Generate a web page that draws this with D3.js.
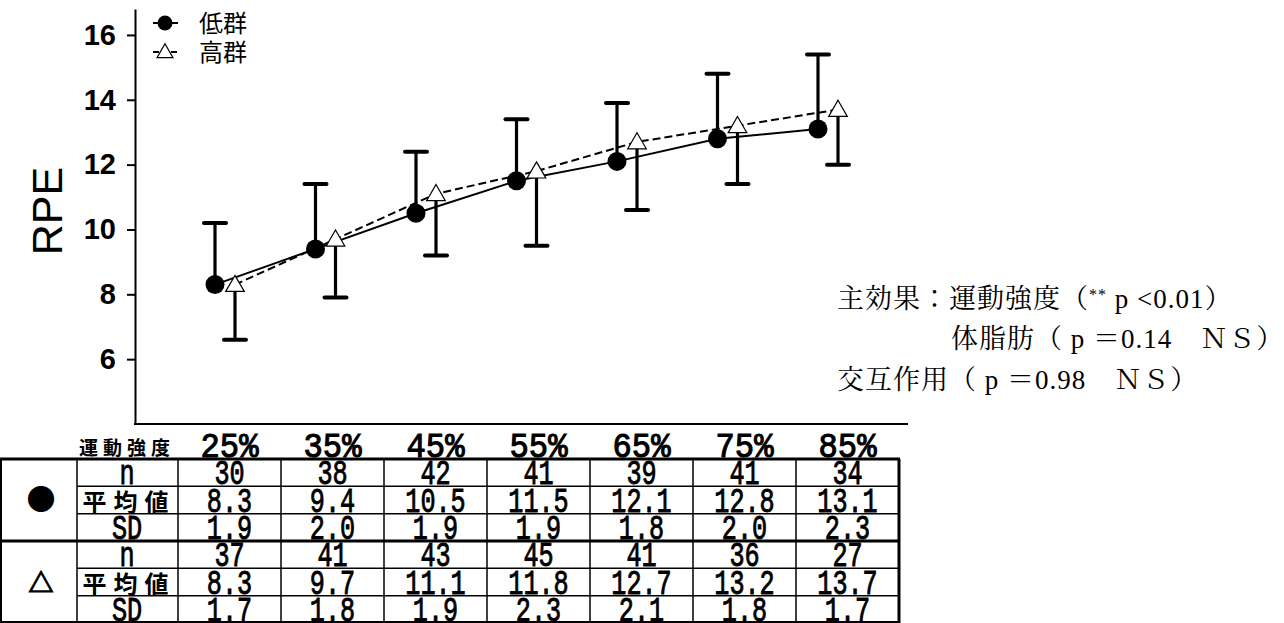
<!DOCTYPE html>
<html>
<head>
<meta charset="utf-8">
<script src="https://cdn.jsdelivr.net/npm/d3@7"></script>
<style>
  html, body { margin: 0; padding: 0; background: #fff; }
  svg { display: block; }
</style>
</head>
<body>
<svg id="chart" width="1284" height="623"></svg>
<script>
// Exercise intensity levels (% of max)
const categories = ["25%", "35%", "45%", "55%", "65%", "75%", "85%"];

// Low body-fat group (●)
const lowN    = [30, 38, 42, 41, 39, 41, 34];
const lowMean = [8.3, 9.4, 10.5, 11.5, 12.1, 12.8, 13.1];
const lowSD   = [1.9, 2.0, 1.9, 1.9, 1.8, 2.0, 2.3];

// High body-fat group (△)
const highN    = [37, 41, 43, 45, 41, 36, 27];
const highMean = [8.3, 9.7, 11.1, 11.8, 12.7, 13.2, 13.7];
const highSD   = [1.7, 1.8, 1.9, 2.3, 2.1, 1.8, 1.7];

const yTicks = [6, 8, 10, 12, 14, 16];
const legendLabels = ["低群", "高群"];
const rowLabels = ["n", "平均値", "SD"];
const statLines = [
  { text: "主効果：運動強度（", sup: "**", rest: " p <0.01）", indent: 0 },
  { text: "体脂肪（ p ＝0.14　ＮＳ）", indent: 1 },
  { text: "交互作用（ p ＝0.98　ＮＳ）", indent: 0 }
];

const svg = d3.select("#chart");
const ink = "#000";

// ---- scales ----
const y = d3.scaleLinear().domain([4, 16.8]).range([424, 9]);
const x = d3.scalePoint().domain(categories).range([225, 828]);
const groupOffset = 10;

// ---- axes ----
const yAxis = d3.axisLeft(y).tickValues(yTicks).tickSize(8).tickSizeOuter(0).tickPadding(11);
const gy = svg.append("g").attr("transform", "translate(135,0)").call(yAxis);
gy.select(".domain").attr("stroke", ink).attr("stroke-width", 2);
gy.selectAll(".tick line").attr("stroke", ink).attr("stroke-width", 2);
gy.selectAll(".tick text")
  .attr("fill", ink)
  .style("font-family", "'Liberation Sans', Arial, sans-serif")
  .style("font-weight", "bold")
  .style("font-size", "29px");

svg.append("line")
  .attr("x1", 134).attr("x2", 908)
  .attr("y1", y(4)).attr("y2", y(4))
  .attr("stroke", ink).attr("stroke-width", 2);

svg.append("text")
  .attr("transform", "translate(62,211) rotate(-90)")
  .attr("text-anchor", "middle")
  .style("font-family", "'Liberation Sans', Arial, sans-serif")
  .style("font-size", "43px")
  .text("RPE");

// ---- series ----
const low = categories.map((c, i) => ({ c, m: lowMean[i], sd: lowSD[i] }));
const high = categories.map((c, i) => ({ c, m: highMean[i], sd: highSD[i] }));
const xl = d => x(d.c) - groupOffset;
const xh = d => x(d.c) + groupOffset;
const capW = 11;

// error bars: low group upward, high group downward
const errLow = svg.append("g");
errLow.selectAll("line.v").data(low).join("line")
  .attr("x1", xl).attr("x2", xl)
  .attr("y1", d => y(d.m)).attr("y2", d => y(d.m + d.sd))
  .attr("stroke", ink).attr("stroke-width", 3.2);
errLow.selectAll("line.c").data(low).join("line")
  .attr("x1", d => xl(d) - capW).attr("x2", d => xl(d) + capW)
  .attr("y1", d => y(d.m + d.sd)).attr("y2", d => y(d.m + d.sd))
  .attr("stroke", ink).attr("stroke-width", 4).attr("stroke-linecap", "round");

const errHigh = svg.append("g");
errHigh.selectAll("line.v").data(high).join("line")
  .attr("x1", xh).attr("x2", xh)
  .attr("y1", d => y(d.m)).attr("y2", d => y(d.m - d.sd))
  .attr("stroke", ink).attr("stroke-width", 3.2);
errHigh.selectAll("line.c").data(high).join("line")
  .attr("x1", d => xh(d) - capW).attr("x2", d => xh(d) + capW)
  .attr("y1", d => y(d.m - d.sd)).attr("y2", d => y(d.m - d.sd))
  .attr("stroke", ink).attr("stroke-width", 4).attr("stroke-linecap", "round");

// connecting lines
svg.append("path").datum(low)
  .attr("d", d3.line().x(xl).y(d => y(d.m)))
  .attr("fill", "none").attr("stroke", ink).attr("stroke-width", 2);
svg.append("path").datum(high)
  .attr("d", d3.line().x(xh).y(d => y(d.m)))
  .attr("fill", "none").attr("stroke", ink).attr("stroke-width", 2)
  .attr("stroke-dasharray", "8,4");

// markers
const tri = d3.symbol().type(d3.symbolTriangle);
svg.append("g").selectAll("circle").data(low).join("circle")
  .attr("cx", xl).attr("cy", d => y(d.m)).attr("r", 9.5).attr("fill", ink);
svg.append("g").selectAll("path").data(high).join("path")
  .attr("d", tri.size(150)())
  .attr("transform", d => `translate(${xh(d)},${y(d.m) + 1.5})`)
  .attr("fill", "#fff").attr("stroke", ink).attr("stroke-width", 1.2);

// ---- legend ----
const legend = svg.append("g");
legendLabels.forEach((lab, i) => {
  const ly = 23 + i * 29;
  legend.append("line").attr("x1", 153).attr("x2", 178).attr("y1", ly).attr("y2", ly)
    .attr("stroke", ink).attr("stroke-width", 2)
    .attr("stroke-dasharray", i === 1 ? "6,3" : null);
  if (i === 0) {
    legend.append("circle").attr("cx", 165).attr("cy", ly).attr("r", 7.5).attr("fill", ink);
  } else {
    legend.append("path").attr("d", tri.size(110)())
      .attr("transform", `translate(165,${ly + 1})`)
      .attr("fill", "#fff").attr("stroke", ink).attr("stroke-width", 1.2);
  }
  legend.append("text").attr("x", 199).attr("y", ly + 9)
    .style("font-family", "'Noto Sans CJK JP', sans-serif")
    .style("font-size", "24px")
    .text(lab);
});

// ---- statistics note ----
const note = svg.append("g")
  .style("font-family", "'Liberation Serif', 'Noto Serif CJK JP', 'Noto Sans CJK JP', serif")
  .style("font-size", "27px")
  .style("letter-spacing", "1px");
const noteY = [308, 348, 389];
statLines.forEach((s, i) => {
  const t = note.append("text")
    .attr("x", s.indent ? 951 : 837)
    .attr("y", noteY[i]);
  t.append("tspan").text(s.text);
  if (s.sup) {
    t.append("tspan").attr("dy", -8).style("font-size", "16px").text(s.sup);
    t.append("tspan").attr("dy", 8).text(s.rest);
  }
});

// ---- data table ----
const tableTop = 459, tableBottom = 623;
const col = d3.scaleBand().domain(categories).range([178, 899]);
const rowKeys = ["n0", "m0", "s0", "n1", "m1", "s1"];
const row = d3.scaleBand().domain(rowKeys).range([tableTop, tableBottom]);
const tableRows = [lowN, lowMean, lowSD, highN, highMean, highSD];
const fmt = (v, k) => k.startsWith("n") ? String(v) : d3.format(".1f")(v);

const table = svg.append("g");
const monoStyle = (sel, size, weight) => sel
  .style("font-family", "'Liberation Mono', 'DejaVu Sans Mono', monospace")
  .style("font-size", size + "px")
  .attr("fill", ink).attr("stroke", ink).attr("stroke-width", weight);

// column headings
table.append("text")
  .attr("x", 127).attr("y", 455).attr("text-anchor", "middle")
  .style("font-family", "'Noto Sans CJK JP', sans-serif")
  .style("font-weight", "bold").style("font-size", "19px")
  .style("letter-spacing", "5px")
  .text("運動強度");
categories.forEach(c => {
  table.append("text")
    .attr("transform", `translate(${col(c) + col.bandwidth() / 2},${tableTop - 2}) scale(0.92,1)`)
    .attr("text-anchor", "middle")
    .call(monoStyle, 35, 1.1)
    .text(c);
});

// cell values
rowKeys.forEach((k, ri) => {
  const by = row(k) + row.bandwidth() - 2;
  tableRows[ri].forEach((v, ci) => {
    const c = categories[ci];
    table.append("text")
      .attr("transform", `translate(${col(c) + col.bandwidth() / 2},${by}) scale(0.72,1)`)
      .attr("text-anchor", "middle")
      .call(monoStyle, 35, 0.9)
      .text(fmt(v, k));
  });
  const lab = rowLabels[ri % 3];
  if (lab === "平均値") {
    table.append("text")
      .attr("x", 129).attr("y", by - 1).attr("text-anchor", "middle")
      .style("font-family", "'Noto Sans CJK JP', sans-serif")
      .style("font-weight", "bold").style("font-size", "24px")
      .style("letter-spacing", "7px")
      .text(lab);
  } else {
    table.append("text")
      .attr("transform", `translate(127,${by}) scale(0.72,1)`)
      .attr("text-anchor", "middle")
      .call(monoStyle, 35, 0.9)
      .text(lab);
  }
});

// group symbols
table.append("text").attr("x", 41).attr("y", row("m0") + row.bandwidth() / 2 + 10)
  .attr("text-anchor", "middle")
  .style("font-family", "'Noto Sans CJK JP', sans-serif").style("font-size", "29px")
  .text("●");
table.append("text").attr("x", 41).attr("y", row("m1") + row.bandwidth() / 2 + 10)
  .attr("text-anchor", "middle")
  .style("font-family", "'Noto Sans CJK JP', sans-serif").style("font-weight", "bold")
  .style("font-size", "25px")
  .attr("stroke", ink).attr("stroke-width", 1.2)
  .text("△");

// grid lines
const thin = 1.5, thick = 3;
[tableTop, row("n1")].forEach(yy => {
  table.append("line").attr("x1", 0).attr("x2", 900).attr("y1", yy).attr("y2", yy)
    .attr("stroke", ink).attr("stroke-width", thick);
});
["m0", "s0", "m1", "s1"].forEach(k => {
  table.append("line").attr("x1", 77).attr("x2", 899).attr("y1", row(k)).attr("y2", row(k))
    .attr("stroke", ink).attr("stroke-width", thin);
});
table.append("line").attr("x1", 0).attr("x2", 900).attr("y1", 622).attr("y2", 622)
  .attr("stroke", ink).attr("stroke-width", 2);
const vx = [1, 77].concat(categories.map(c => col(c)));
vx.forEach(xx => {
  table.append("line").attr("x1", xx).attr("x2", xx).attr("y1", tableTop).attr("y2", tableBottom)
    .attr("stroke", ink).attr("stroke-width", xx <= 1 ? 2 : thin);
});
table.append("line").attr("x1", 899).attr("x2", 899).attr("y1", tableTop).attr("y2", tableBottom)
  .attr("stroke", ink).attr("stroke-width", thick);
</script>
</body>
</html>
